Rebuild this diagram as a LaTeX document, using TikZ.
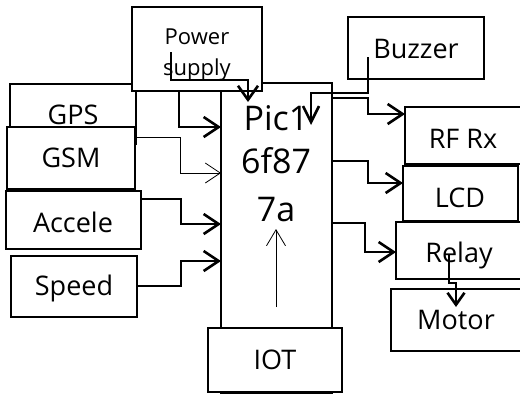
\documentclass[tikz,border=0pt]{standalone}
\usepackage{fontspec}
\setmainfont{Open Sans}
\usetikzlibrary{arrows.meta,calc}
\tikzset{
  box/.style={draw=black,fill=white,line width=2.6pt,inner sep=0pt,outer sep=0pt,rectangle},
  lbl/.style={anchor=base,inner sep=0pt,font=\fontsize{27}{32}\selectfont},
  arr/.style={line width=2.6pt,-{Straight Barb[length=15pt,width=20pt]}},
  thinarr/.style={line width=0.8pt,-{Straight Barb[length=15pt,width=20pt]}},
}
\begin{document}
\begin{tikzpicture}[x=1pt,y=-1pt]
\useasboundingbox (0,0) rectangle (520,394);
\clip (0,0) rectangle (520,394);
% boxes (drawing order matters for overlaps)
\node[box,minimum width=126pt,minimum height=60pt] (gps) at (73,114) {};
\node[box,minimum width=128pt,minimum height=62pt] (gsm) at (71,158) {};
\node[box,minimum width=135pt,minimum height=58pt] (acc) at (73.5,220) {};
\node[box,minimum width=126pt,minimum height=61pt] (spd) at (74,286.5) {};
\node[box,minimum width=111pt,minimum height=310.5pt] (pic) at (276.5,238.25) {};
\node[box,minimum width=134pt,minimum height=64pt] (iot) at (275,360) {};
\node[box,minimum width=130pt,minimum height=84pt] (psu) at (197,49) {};
\node[box,minimum width=136pt,minimum height=62pt] (buz) at (416,48) {};
\node[box,minimum width=125pt,minimum height=57pt] (rf) at (467.5,135.5) {};
\node[box,minimum width=115pt,minimum height=55pt] (lcd) at (460.5,193.5) {};
\node[box,minimum width=134pt,minimum height=57pt] (rel) at (463,250.5) {};
\node[box,minimum width=139pt,minimum height=62pt] (mot) at (460.5,320) {};
% labels
\node[lbl] (tgps) at (73,124) {GPS};
\node[lbl] (tgsm) at (71,167) {GSM};
\node[lbl] (tacc) at (73,232) {Accele};
\node[lbl] (tspd) at (74,295) {Speed};
\node[lbl] (tiot) at (275,369) {IOT};
\node[lbl,font=\fontsize{22}{26}\selectfont] (tpow1) at (197,44) {Power};
\node[lbl,font=\fontsize{22}{26}\selectfont] (tpow2) at (197,75) {supply};
\node[lbl] (tbuz) at (416,58) {Buzzer};
\node[lbl] (trf) at (463,148) {RF Rx};
\node[lbl] (tlcd) at (460,207) {LCD};
\node[lbl] (trel) at (459,262) {Relay};
\node[lbl] (tmot) at (456,329) {Motor};
\node[lbl,font=\fontsize{34}{40}\selectfont] (tp1) at (276,130) {Pic1};
\node[lbl,font=\fontsize{34}{40}\selectfont] (tp2) at (276,173) {6f87};
\node[lbl,font=\fontsize{34}{40}\selectfont] (tp3) at (276,221) {7a};
% free ends
\coordinate (psuin) at ($(psu.north west)+(39,45)$);
\coordinate (pictop) at (248,102);
\coordinate (buzin) at (368,57);
\coordinate (buztip) at (311,125);
\coordinate (upfrom) at (276,307);
\coordinate (upto) at (276,229);
\coordinate (relin) at (449,254);
% connectors
\draw[arr] ($(psu.south west)+(47,0)$) |- (pic.west |- 0,127);
\draw[arr,-{Straight Barb[length=14pt,width=20pt]}] (psuin) -- (171,80) -- (248,80) -- (pictop);
\draw[thinarr] (gsm.east |- 0,137) -- (180,137) -- (180,173) -- (pic.west |- 0,173);
\draw[arr] (acc.east |- 0,199) -- (181,199) -- (181,224) -- (pic.west |- 0,224);
\draw[arr] (spd.east |- 0,286) -- (181,286) -- (181,261) -- (pic.west |- 0,261);
\draw[thinarr,-{Straight Barb[length=16pt,width=19pt]}] (upfrom) -- (upto);
\draw[arr,-{Straight Barb[length=16pt,width=16pt]}] (buzin) -- (368,93) -- (311,93) -- (buztip);
\draw[arr] (pic.east |- 0,98) -- (368,98) -- (368,114) -- (rf.west |- 0,114);
\draw[arr] (pic.east |- 0,161) -- (368,161) -- (368,183) -- (lcd.west |- 0,183);
\draw[arr] (pic.east |- 0,223) -- (365,223) -- (365,252) -- (rel.west |- 0,252);
\draw[arr,-{Straight Barb[length=12pt,width=17pt]}] (relin) -- (449,283) -- (456,283) -- (456,307);
\end{tikzpicture}
\end{document}
